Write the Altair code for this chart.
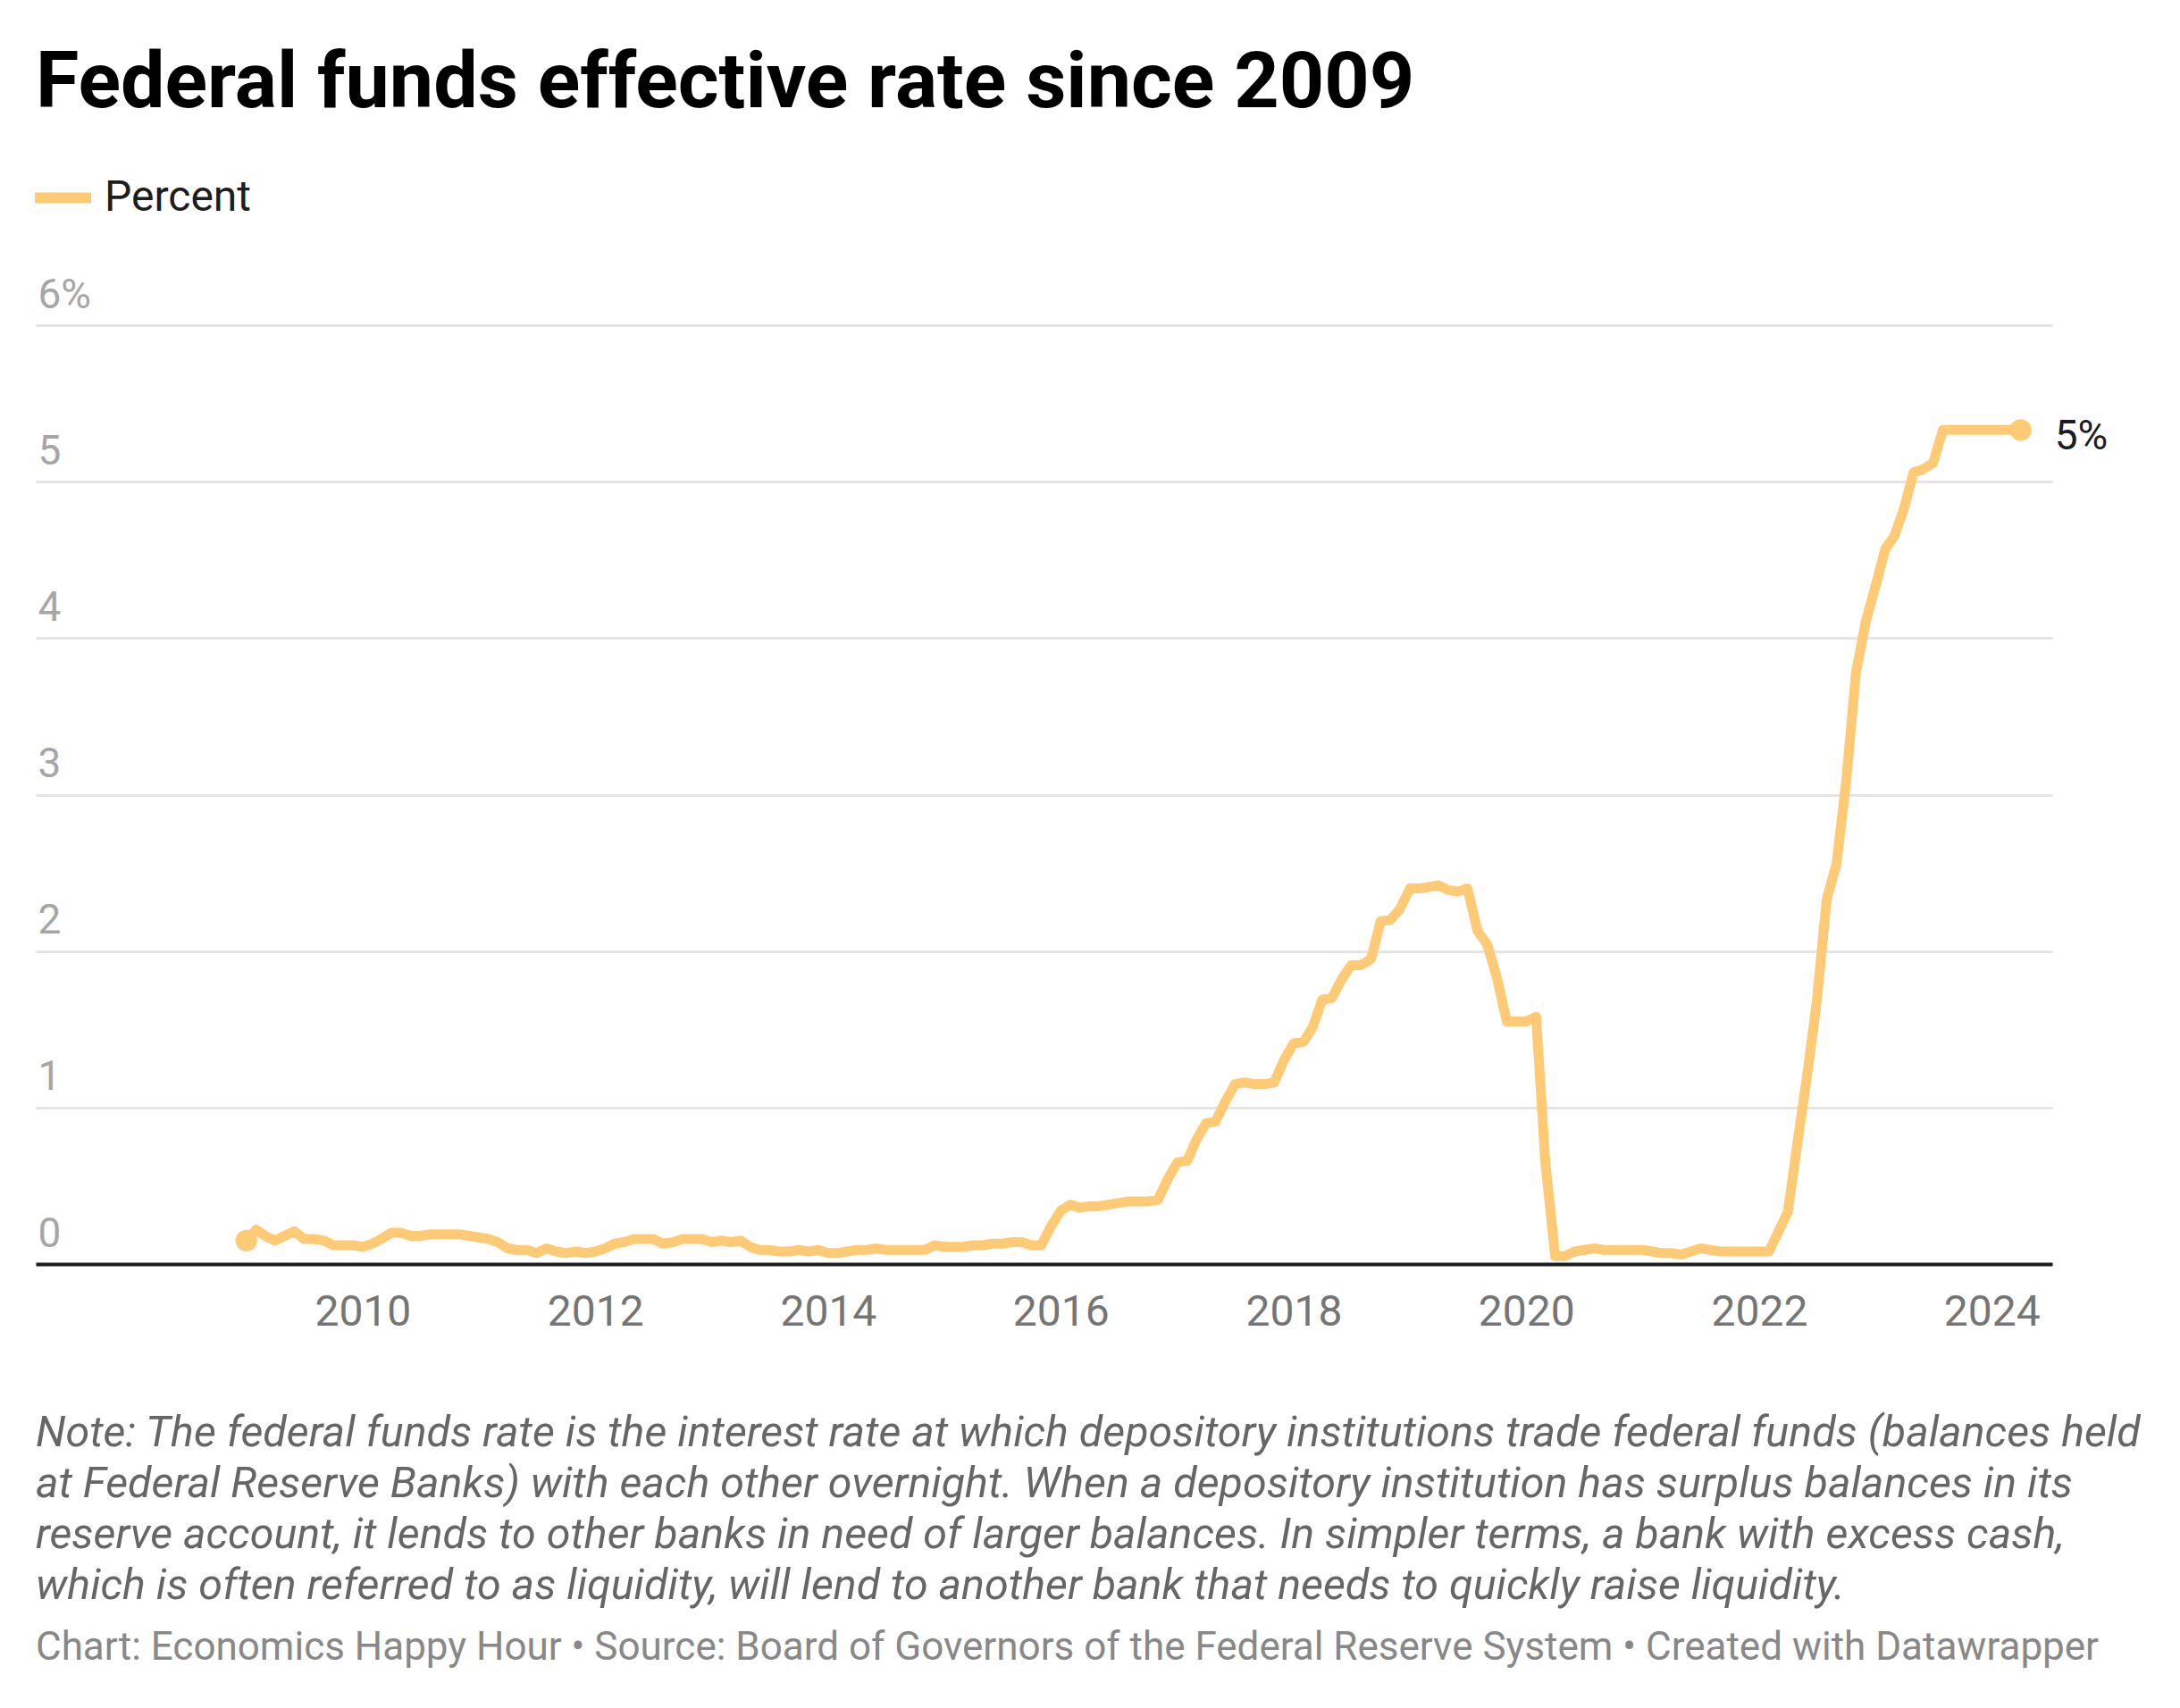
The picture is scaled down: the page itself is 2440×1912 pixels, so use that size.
import altair as alt
import pandas as pd

# ---------------- data ----------------
chart_title = "Federal funds effective rate since 2009"
series_names = ["Percent"]

rates_2009 = [0.15, 0.22, 0.18, 0.15, 0.18, 0.21, 0.16, 0.16, 0.15, 0.12, 0.12, 0.12]
rates_2010 = [0.11, 0.13, 0.16, 0.20, 0.20, 0.18, 0.18, 0.19, 0.19, 0.19, 0.19, 0.18]
rates_2011 = [0.17, 0.16, 0.14, 0.10, 0.09, 0.09, 0.07, 0.10, 0.08, 0.07, 0.08, 0.07]
rates_2012 = [0.08, 0.10, 0.13, 0.14, 0.16, 0.16, 0.16, 0.13, 0.14, 0.16, 0.16, 0.16]
rates_2013 = [0.14, 0.15, 0.14, 0.15, 0.11, 0.09, 0.09, 0.08, 0.08, 0.09, 0.08, 0.09]
rates_2014 = [0.07, 0.07, 0.08, 0.09, 0.09, 0.10, 0.09, 0.09, 0.09, 0.09, 0.09, 0.12]
rates_2015 = [0.11, 0.11, 0.11, 0.12, 0.12, 0.13, 0.13, 0.14, 0.14, 0.12, 0.12, 0.24]
rates_2016 = [0.34, 0.38, 0.36, 0.37, 0.37, 0.38, 0.39, 0.40, 0.40, 0.40, 0.41, 0.54]
rates_2017 = [0.65, 0.66, 0.79, 0.90, 0.91, 1.04, 1.15, 1.16, 1.15, 1.15, 1.16, 1.30]
rates_2018 = [1.41, 1.42, 1.51, 1.69, 1.70, 1.82, 1.91, 1.91, 1.95, 2.19, 2.20, 2.27]
rates_2019 = [2.40, 2.40, 2.41, 2.42, 2.39, 2.38, 2.40, 2.13, 2.04, 1.83, 1.55, 1.55]
rates_2020 = [1.55, 1.58, 0.65, 0.05, 0.05, 0.08, 0.09, 0.10, 0.09, 0.09, 0.09, 0.09]
rates_2021 = [0.09, 0.08, 0.07, 0.07, 0.06, 0.08, 0.10, 0.09, 0.08, 0.08, 0.08, 0.08]
rates_2022 = [0.08, 0.08, 0.20, 0.33, 0.77, 1.21, 1.68, 2.33, 2.56, 3.08, 3.78, 4.10]
rates_2023 = [4.33, 4.57, 4.65, 4.83, 5.06, 5.08, 5.12, 5.33, 5.33, 5.33, 5.33, 5.33]
rates_2024 = [5.33, 5.33, 5.33, 5.33]

x_tick_years = [2010, 2012, 2014, 2016, 2018, 2020, 2022, 2024]
y_tick_values = [0, 1, 2, 3, 4, 5, 6]

note_lines = [
    "Note: The federal funds rate is the interest rate at which depository institutions trade federal funds (balances held",
    "at Federal Reserve Banks) with each other overnight. When a depository institution has surplus balances in its",
    "reserve account, it lends to other banks in need of larger balances. In simpler terms, a bank with excess cash,",
    "which is often referred to as liquidity, will lend to another bank that needs to quickly raise liquidity.",
]
footer_text = "Chart: Economics Happy Hour \u2022 Source: Board of Governors of the Federal Reserve System \u2022 Created with Datawrapper"

# ---------------- tables ----------------
rates = (rates_2009 + rates_2010 + rates_2011 + rates_2012 + rates_2013 + rates_2014
         + rates_2015 + rates_2016 + rates_2017 + rates_2018 + rates_2019 + rates_2020
         + rates_2021 + rates_2022 + rates_2023 + rates_2024)
dates = [f"{2009 + i // 12}-{i % 12 + 1:02d}-01" for i in range(len(rates))]
df = pd.DataFrame({"date": dates, "rate": rates, "series": series_names[0]})
ends = df.iloc[[0, len(df) - 1]].reset_index(drop=True)
last = df.iloc[[len(df) - 1]].reset_index(drop=True)

# ---------------- style ----------------
LINE = "#ffca76"
FONT = "Roboto"
W, H = 2257, 1051

x_scale = alt.Scale(
    type="utc",
    domain=[alt.DateTime(year=2007, month=3, date=12, utc=True),
            alt.DateTime(year=2024, month=7, date=9, utc=True)],
)
y_scale = alt.Scale(domain=[0, 6], nice=False, zero=True)

x_axis = alt.Axis(
    values=[alt.DateTime(year=y, month=1, date=1, utc=True) for y in x_tick_years],
    format="%Y", title=None, grid=False, ticks=False, tickSize=0,
    domain=True, domainColor="#1d1d1d", domainWidth=4,
    labelFont=FONT, labelFontSize=48, labelColor="#757575",
    labelPadding=30, labelFlush=False, labelOverlap=False,
)
y_axis = alt.Axis(
    values=y_tick_values, title=None, domain=False, ticks=False, tickSize=0,
    grid=True, gridColor="#e5e5e5", gridWidth=3,
    labelAlign="left", labelBaseline="alphabetic", labelPadding=-2,
    labelOffset=-20, labelFont=FONT, labelFontSize=46,
    labelColor="#a6a6a6", labelFlush=False, labelOverlap=False,
    labelExpr="datum.value == 6 ? '6%' : format(datum.value, 'd')",
)

x_enc = alt.X("date:T", scale=x_scale, axis=x_axis)
y_enc = alt.Y("rate:Q", scale=y_scale, axis=y_axis)

line = alt.Chart(df).mark_line(
    strokeWidth=11, strokeCap="round", strokeJoin="round"
).encode(
    x=x_enc,
    y=y_enc,
    color=alt.Color(
        "series:N",
        scale=alt.Scale(domain=series_names, range=[LINE]),
        legend=alt.Legend(
            orient="none", legendX=-7, legendY=-180, title=None,
            symbolType="stroke", symbolStrokeWidth=12, symbolSize=3969,
            labelFont=FONT, labelFontSize=48, labelColor="#1d1d1d",
            labelOffset=9, labelLimit=600, padding=0,
        ),
    ),
)

dots = alt.Chart(ends).mark_circle(size=580, color=LINE, opacity=1).encode(
    x="date:T", y="rate:Q"
)

end_label = alt.Chart(last).transform_calculate(
    label="format(datum.rate, '.0f') + '%'"
).mark_text(
    align="left", baseline="alphabetic", dx=38, dy=22,
    font=FONT, fontSize=46, color="#1d1d1d",
).encode(x="date:T", y="rate:Q", text="label:N")

note = alt.Chart(alt.Data(values=[{"k": 0}])).mark_text(
    text=note_lines, align="left", baseline="alphabetic",
    font=FONT, fontStyle="italic", fontSize=48.4, lineHeight=57, color="#666666",
).encode(x=alt.value(0), y=alt.value(1255))

footer = alt.Chart(alt.Data(values=[{"k": 0}])).mark_text(
    text=footer_text, align="left", baseline="alphabetic",
    font=FONT, fontSize=44, color="#888888",
).encode(x=alt.value(0), y=alt.value(1494))

chart = alt.layer(line, dots, end_label, note, footer).properties(
    width=W, height=H,
    background="white",
    title=alt.Title(
        chart_title, anchor="start", frame="group", font=FONT,
        fontSize=88, fontWeight="bold", color="#000000", offset=46,
    ),
    autosize=alt.AutoSizeParams(type="none"),
    padding={"left": 32, "top": 356, "right": 135, "bottom": 489},
).configure_view(strokeWidth=0, stroke="transparent")

chart.save("out.html", embed_options={"renderer": "svg", "actions": False})
